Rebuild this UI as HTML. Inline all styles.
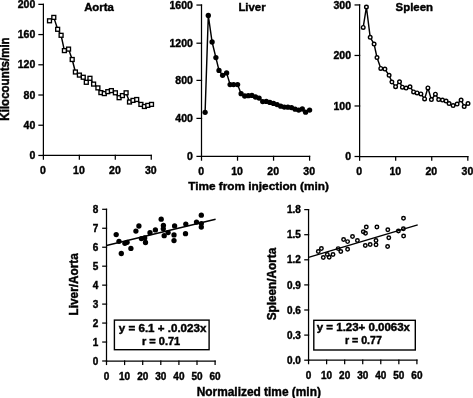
<!DOCTYPE html>
<html><head><meta charset="utf-8"><title>Figure</title>
<style>
html,body{margin:0;padding:0;background:#fff;}
body{width:473px;height:398px;overflow:hidden;}
svg{display:block;font-family:"Liberation Sans", sans-serif;will-change:transform;}
</style></head>
<body>
<svg width="473" height="398" viewBox="0 0 473 398">
<rect width="473" height="398" fill="#fff"/>
<g stroke="#000" fill="none" stroke-linecap="square">
<line x1="43.40" y1="4.35" x2="43.40" y2="155.45" stroke-width="1.25"/>
<line x1="43.40" y1="155.45" x2="151.25" y2="155.45" stroke-width="1.25"/>
<line x1="38.95" y1="155.45" x2="43.40" y2="155.45" stroke-width="1.25"/>
<line x1="38.95" y1="125.23" x2="43.40" y2="125.23" stroke-width="1.25"/>
<line x1="38.95" y1="95.01" x2="43.40" y2="95.01" stroke-width="1.25"/>
<line x1="38.95" y1="64.79" x2="43.40" y2="64.79" stroke-width="1.25"/>
<line x1="38.95" y1="34.57" x2="43.40" y2="34.57" stroke-width="1.25"/>
<line x1="38.95" y1="4.35" x2="43.40" y2="4.35" stroke-width="1.25"/>
<line x1="43.40" y1="155.45" x2="43.40" y2="159.15" stroke-width="1.25"/>
<line x1="79.35" y1="155.45" x2="79.35" y2="159.15" stroke-width="1.25"/>
<line x1="115.30" y1="155.45" x2="115.30" y2="159.15" stroke-width="1.25"/>
<line x1="151.25" y1="155.45" x2="151.25" y2="159.15" stroke-width="1.25"/>
</g>
<g fill="#000" font-weight="bold" stroke="#000" stroke-width="0.4">
<text x="35.30" y="159.15" font-size="10.5" text-anchor="end">0</text>
<text x="35.30" y="128.93" font-size="10.5" text-anchor="end">40</text>
<text x="35.30" y="98.71" font-size="10.5" text-anchor="end">80</text>
<text x="35.30" y="68.49" font-size="10.5" text-anchor="end">120</text>
<text x="35.30" y="38.27" font-size="10.5" text-anchor="end">160</text>
<text x="35.30" y="8.05" font-size="10.5" text-anchor="end">200</text>
<text x="43.00" y="173.60" font-size="10.5" text-anchor="middle">0</text>
<text x="78.95" y="173.60" font-size="10.5" text-anchor="middle">10</text>
<text x="114.90" y="173.60" font-size="10.5" text-anchor="middle">20</text>
<text x="150.85" y="173.60" font-size="10.5" text-anchor="middle">30</text>
</g>
<g stroke="#000" fill="none" stroke-linecap="square">
<line x1="201.50" y1="5.05" x2="201.50" y2="156.40" stroke-width="1.25"/>
<line x1="201.50" y1="156.40" x2="309.59" y2="156.40" stroke-width="1.25"/>
<line x1="197.05" y1="156.40" x2="201.50" y2="156.40" stroke-width="1.25"/>
<line x1="197.05" y1="118.40" x2="201.50" y2="118.40" stroke-width="1.25"/>
<line x1="197.05" y1="80.40" x2="201.50" y2="80.40" stroke-width="1.25"/>
<line x1="197.05" y1="43.20" x2="201.50" y2="43.20" stroke-width="1.25"/>
<line x1="197.05" y1="5.05" x2="201.50" y2="5.05" stroke-width="1.25"/>
<line x1="201.50" y1="156.40" x2="201.50" y2="160.10" stroke-width="1.25"/>
<line x1="237.53" y1="156.40" x2="237.53" y2="160.10" stroke-width="1.25"/>
<line x1="273.56" y1="156.40" x2="273.56" y2="160.10" stroke-width="1.25"/>
<line x1="309.59" y1="156.40" x2="309.59" y2="160.10" stroke-width="1.25"/>
</g>
<g fill="#000" font-weight="bold" stroke="#000" stroke-width="0.4">
<text x="192.90" y="160.10" font-size="10.5" text-anchor="end">0</text>
<text x="192.90" y="122.10" font-size="10.5" text-anchor="end">400</text>
<text x="192.90" y="84.10" font-size="10.5" text-anchor="end">800</text>
<text x="192.90" y="46.90" font-size="10.5" text-anchor="end">1200</text>
<text x="192.90" y="8.75" font-size="10.5" text-anchor="end">1600</text>
<text x="201.10" y="174.60" font-size="10.5" text-anchor="middle">0</text>
<text x="237.13" y="174.60" font-size="10.5" text-anchor="middle">10</text>
<text x="273.16" y="174.60" font-size="10.5" text-anchor="middle">20</text>
<text x="309.19" y="174.60" font-size="10.5" text-anchor="middle">30</text>
</g>
<g stroke="#000" fill="none" stroke-linecap="square">
<line x1="359.60" y1="4.95" x2="359.60" y2="156.50" stroke-width="1.25"/>
<line x1="359.60" y1="156.50" x2="467.81" y2="156.50" stroke-width="1.25"/>
<line x1="355.15" y1="156.50" x2="359.60" y2="156.50" stroke-width="1.25"/>
<line x1="355.15" y1="105.98" x2="359.60" y2="105.98" stroke-width="1.25"/>
<line x1="355.15" y1="55.47" x2="359.60" y2="55.47" stroke-width="1.25"/>
<line x1="355.15" y1="4.95" x2="359.60" y2="4.95" stroke-width="1.25"/>
<line x1="359.60" y1="156.50" x2="359.60" y2="160.20" stroke-width="1.25"/>
<line x1="395.67" y1="156.50" x2="395.67" y2="160.20" stroke-width="1.25"/>
<line x1="431.74" y1="156.50" x2="431.74" y2="160.20" stroke-width="1.25"/>
<line x1="467.81" y1="156.50" x2="467.81" y2="160.20" stroke-width="1.25"/>
</g>
<g fill="#000" font-weight="bold" stroke="#000" stroke-width="0.4">
<text x="351.00" y="160.20" font-size="10.5" text-anchor="end">0</text>
<text x="351.00" y="109.68" font-size="10.5" text-anchor="end">100</text>
<text x="351.00" y="59.17" font-size="10.5" text-anchor="end">200</text>
<text x="351.00" y="8.65" font-size="10.5" text-anchor="end">300</text>
<text x="359.20" y="174.60" font-size="10.5" text-anchor="middle">0</text>
<text x="395.27" y="174.60" font-size="10.5" text-anchor="middle">10</text>
<text x="431.34" y="174.60" font-size="10.5" text-anchor="middle">20</text>
<text x="467.41" y="174.60" font-size="10.5" text-anchor="middle">30</text>
</g>
<g fill="#000" font-weight="bold" stroke="#000" stroke-width="0.4">
<text x="99.00" y="11.40" font-size="11.4" text-anchor="middle">Aorta</text>
<text x="252.00" y="11.40" font-size="11.4" text-anchor="middle">Liver</text>
<text x="414.30" y="11.30" font-size="11.4" text-anchor="middle">Spleen</text>
<text x="258.60" y="190.20" font-size="11.8" text-anchor="middle">Time from injection (min)</text>
<text x="258.80" y="395.60" font-size="11.9" text-anchor="middle">Normalized time (min)</text>
<text transform="translate(8.9,79.0) rotate(-90) scale(1,1.1)" font-size="11.55" text-anchor="middle">Kilocounts/min</text>
<text transform="translate(78.35,284.3) rotate(-90) scale(1,1.08)" font-size="11.8" text-anchor="middle">Liver/Aorta</text>
<text transform="translate(275.8,284.0) rotate(-90) scale(1,1.08)" font-size="11.8" text-anchor="middle">Spleen/Aorta</text>
</g>
<polyline points="49.50,20.80 53.80,17.40 57.65,29.30 61.10,35.30 64.40,50.60 68.55,49.10 72.20,59.50 75.40,72.00 79.40,75.10 83.25,77.25 86.30,82.30 89.95,78.30 93.60,84.10 97.90,87.90 100.90,92.60 104.30,93.60 107.80,91.65 111.35,90.60 115.40,92.80 119.10,97.70 122.40,95.60 126.10,92.80 129.50,102.00 133.00,100.40 136.70,99.50 140.90,104.40 144.40,106.50 147.80,105.40 151.50,104.40" fill="none" stroke="#000" stroke-width="1.45"/>
<g fill="#fff" stroke="#000" stroke-width="1.35">
<rect x="47.55" y="18.85" width="3.9" height="3.9"/>
<rect x="51.85" y="15.45" width="3.9" height="3.9"/>
<rect x="55.70" y="27.35" width="3.9" height="3.9"/>
<rect x="59.15" y="33.35" width="3.9" height="3.9"/>
<rect x="62.45" y="48.65" width="3.9" height="3.9"/>
<rect x="66.60" y="47.15" width="3.9" height="3.9"/>
<rect x="70.25" y="57.55" width="3.9" height="3.9"/>
<rect x="73.45" y="70.05" width="3.9" height="3.9"/>
<rect x="77.45" y="73.15" width="3.9" height="3.9"/>
<rect x="81.30" y="75.30" width="3.9" height="3.9"/>
<rect x="84.35" y="80.35" width="3.9" height="3.9"/>
<rect x="88.00" y="76.35" width="3.9" height="3.9"/>
<rect x="91.65" y="82.15" width="3.9" height="3.9"/>
<rect x="95.95" y="85.95" width="3.9" height="3.9"/>
<rect x="98.95" y="90.65" width="3.9" height="3.9"/>
<rect x="102.35" y="91.65" width="3.9" height="3.9"/>
<rect x="105.85" y="89.70" width="3.9" height="3.9"/>
<rect x="109.40" y="88.65" width="3.9" height="3.9"/>
<rect x="113.45" y="90.85" width="3.9" height="3.9"/>
<rect x="117.15" y="95.75" width="3.9" height="3.9"/>
<rect x="120.45" y="93.65" width="3.9" height="3.9"/>
<rect x="124.15" y="90.85" width="3.9" height="3.9"/>
<rect x="127.55" y="100.05" width="3.9" height="3.9"/>
<rect x="131.05" y="98.45" width="3.9" height="3.9"/>
<rect x="134.75" y="97.55" width="3.9" height="3.9"/>
<rect x="138.95" y="102.45" width="3.9" height="3.9"/>
<rect x="142.45" y="104.55" width="3.9" height="3.9"/>
<rect x="145.85" y="103.45" width="3.9" height="3.9"/>
<rect x="149.55" y="102.45" width="3.9" height="3.9"/>
</g>
<polyline points="205.10,112.30 208.30,15.50 212.10,42.00 215.90,57.60 219.00,70.40 222.60,75.30 226.60,72.90 230.10,84.60 233.60,84.60 237.60,84.60 241.10,93.70 244.70,96.00 248.30,95.70 251.90,95.40 255.50,97.00 259.10,98.10 262.70,101.60 266.30,101.40 269.90,102.40 273.50,103.40 277.10,104.60 280.70,106.20 284.30,107.10 287.90,107.20 291.50,107.60 295.10,109.20 298.70,110.10 302.30,109.00 305.60,112.20 309.60,110.10" fill="none" stroke="#000" stroke-width="1.45"/>
<g fill="#000">
<circle cx="205.10" cy="112.30" r="2.65"/>
<circle cx="208.30" cy="15.50" r="2.65"/>
<circle cx="212.10" cy="42.00" r="2.65"/>
<circle cx="215.90" cy="57.60" r="2.65"/>
<circle cx="219.00" cy="70.40" r="2.65"/>
<circle cx="222.60" cy="75.30" r="2.65"/>
<circle cx="226.60" cy="72.90" r="2.65"/>
<circle cx="230.10" cy="84.60" r="2.65"/>
<circle cx="233.60" cy="84.60" r="2.65"/>
<circle cx="237.60" cy="84.60" r="2.65"/>
<circle cx="241.10" cy="93.70" r="2.65"/>
<circle cx="244.70" cy="96.00" r="2.65"/>
<circle cx="248.30" cy="95.70" r="2.65"/>
<circle cx="251.90" cy="95.40" r="2.65"/>
<circle cx="255.50" cy="97.00" r="2.65"/>
<circle cx="259.10" cy="98.10" r="2.65"/>
<circle cx="262.70" cy="101.60" r="2.65"/>
<circle cx="266.30" cy="101.40" r="2.65"/>
<circle cx="269.90" cy="102.40" r="2.65"/>
<circle cx="273.50" cy="103.40" r="2.65"/>
<circle cx="277.10" cy="104.60" r="2.65"/>
<circle cx="280.70" cy="106.20" r="2.65"/>
<circle cx="284.30" cy="107.10" r="2.65"/>
<circle cx="287.90" cy="107.20" r="2.65"/>
<circle cx="291.50" cy="107.60" r="2.65"/>
<circle cx="295.10" cy="109.20" r="2.65"/>
<circle cx="298.70" cy="110.10" r="2.65"/>
<circle cx="302.30" cy="109.00" r="2.65"/>
<circle cx="305.60" cy="112.20" r="2.65"/>
<circle cx="309.60" cy="110.10" r="2.65"/>
</g>
<polyline points="363.20,27.40 366.40,7.00 370.20,37.30 374.10,44.10 377.00,57.60 380.80,68.40 384.90,69.10 389.10,75.30 391.90,82.00 395.60,86.70 399.50,81.80 402.40,87.20 406.10,88.10 410.00,86.80 413.60,91.90 417.10,92.90 420.90,93.90 424.60,98.90 427.90,87.90 431.40,99.60 435.40,94.20 438.70,99.60 442.50,100.10 446.10,101.10 449.10,103.60 453.10,105.60 457.10,104.10 461.10,100.10 464.20,106.60 468.00,103.60" fill="none" stroke="#000" stroke-width="1.45"/>
<g fill="#fff" stroke="#000" stroke-width="1.4">
<circle cx="363.20" cy="27.40" r="1.8"/>
<circle cx="366.40" cy="7.00" r="1.8"/>
<circle cx="370.20" cy="37.30" r="1.8"/>
<circle cx="374.10" cy="44.10" r="1.8"/>
<circle cx="377.00" cy="57.60" r="1.8"/>
<circle cx="380.80" cy="68.40" r="1.8"/>
<circle cx="384.90" cy="69.10" r="1.8"/>
<circle cx="389.10" cy="75.30" r="1.8"/>
<circle cx="391.90" cy="82.00" r="1.8"/>
<circle cx="395.60" cy="86.70" r="1.8"/>
<circle cx="399.50" cy="81.80" r="1.8"/>
<circle cx="402.40" cy="87.20" r="1.8"/>
<circle cx="406.10" cy="88.10" r="1.8"/>
<circle cx="410.00" cy="86.80" r="1.8"/>
<circle cx="413.60" cy="91.90" r="1.8"/>
<circle cx="417.10" cy="92.90" r="1.8"/>
<circle cx="420.90" cy="93.90" r="1.8"/>
<circle cx="424.60" cy="98.90" r="1.8"/>
<circle cx="427.90" cy="87.90" r="1.8"/>
<circle cx="431.40" cy="99.60" r="1.8"/>
<circle cx="435.40" cy="94.20" r="1.8"/>
<circle cx="438.70" cy="99.60" r="1.8"/>
<circle cx="442.50" cy="100.10" r="1.8"/>
<circle cx="446.10" cy="101.10" r="1.8"/>
<circle cx="449.10" cy="103.60" r="1.8"/>
<circle cx="453.10" cy="105.60" r="1.8"/>
<circle cx="457.10" cy="104.10" r="1.8"/>
<circle cx="461.10" cy="100.10" r="1.8"/>
<circle cx="464.20" cy="106.60" r="1.8"/>
<circle cx="468.00" cy="103.60" r="1.8"/>
</g>
<g stroke="#000" fill="none" stroke-linecap="square">
<line x1="106.50" y1="209.30" x2="106.50" y2="361.00" stroke-width="1.25"/>
<line x1="106.50" y1="361.00" x2="215.10" y2="361.00" stroke-width="1.25"/>
<line x1="102.80" y1="361.00" x2="106.50" y2="361.00" stroke-width="1.25"/>
<line x1="102.80" y1="342.04" x2="106.50" y2="342.04" stroke-width="1.25"/>
<line x1="102.80" y1="323.07" x2="106.50" y2="323.07" stroke-width="1.25"/>
<line x1="102.80" y1="304.11" x2="106.50" y2="304.11" stroke-width="1.25"/>
<line x1="102.80" y1="285.15" x2="106.50" y2="285.15" stroke-width="1.25"/>
<line x1="102.80" y1="266.19" x2="106.50" y2="266.19" stroke-width="1.25"/>
<line x1="102.80" y1="247.23" x2="106.50" y2="247.23" stroke-width="1.25"/>
<line x1="102.80" y1="228.26" x2="106.50" y2="228.26" stroke-width="1.25"/>
<line x1="102.80" y1="209.30" x2="106.50" y2="209.30" stroke-width="1.25"/>
<line x1="106.50" y1="361.00" x2="106.50" y2="364.45" stroke-width="1.25"/>
<line x1="124.60" y1="361.00" x2="124.60" y2="364.45" stroke-width="1.25"/>
<line x1="142.70" y1="361.00" x2="142.70" y2="364.45" stroke-width="1.25"/>
<line x1="160.80" y1="361.00" x2="160.80" y2="364.45" stroke-width="1.25"/>
<line x1="178.90" y1="361.00" x2="178.90" y2="364.45" stroke-width="1.25"/>
<line x1="197.00" y1="361.00" x2="197.00" y2="364.45" stroke-width="1.25"/>
<line x1="215.10" y1="361.00" x2="215.10" y2="364.45" stroke-width="1.25"/>
</g>
<g fill="#000" font-weight="bold" stroke="#000" stroke-width="0.4">
<text x="98.40" y="364.60" font-size="10" text-anchor="end">0</text>
<text x="98.40" y="345.64" font-size="10" text-anchor="end">1</text>
<text x="98.40" y="326.68" font-size="10" text-anchor="end">2</text>
<text x="98.40" y="307.71" font-size="10" text-anchor="end">3</text>
<text x="98.40" y="288.75" font-size="10" text-anchor="end">4</text>
<text x="98.40" y="269.79" font-size="10" text-anchor="end">5</text>
<text x="98.40" y="250.83" font-size="10" text-anchor="end">6</text>
<text x="98.40" y="231.86" font-size="10" text-anchor="end">7</text>
<text x="98.40" y="212.90" font-size="10" text-anchor="end">8</text>
<text x="106.50" y="379.60" font-size="10" text-anchor="middle">0</text>
<text x="124.60" y="379.60" font-size="10" text-anchor="middle">10</text>
<text x="142.70" y="379.60" font-size="10" text-anchor="middle">20</text>
<text x="160.80" y="379.60" font-size="10" text-anchor="middle">30</text>
<text x="178.90" y="379.60" font-size="10" text-anchor="middle">40</text>
<text x="197.00" y="379.60" font-size="10" text-anchor="middle">50</text>
<text x="215.10" y="379.60" font-size="10" text-anchor="middle">60</text>
</g>
<g stroke="#000" fill="none" stroke-linecap="square">
<line x1="308.55" y1="209.60" x2="308.55" y2="360.20" stroke-width="1.25"/>
<line x1="308.55" y1="360.20" x2="416.90" y2="360.20" stroke-width="1.25"/>
<line x1="304.85" y1="360.20" x2="308.55" y2="360.20" stroke-width="1.25"/>
<line x1="304.85" y1="335.10" x2="308.55" y2="335.10" stroke-width="1.25"/>
<line x1="304.85" y1="310.00" x2="308.55" y2="310.00" stroke-width="1.25"/>
<line x1="304.85" y1="284.90" x2="308.55" y2="284.90" stroke-width="1.25"/>
<line x1="304.85" y1="259.80" x2="308.55" y2="259.80" stroke-width="1.25"/>
<line x1="304.85" y1="234.70" x2="308.55" y2="234.70" stroke-width="1.25"/>
<line x1="304.85" y1="209.60" x2="308.55" y2="209.60" stroke-width="1.25"/>
<line x1="308.55" y1="360.20" x2="308.55" y2="363.65" stroke-width="1.25"/>
<line x1="326.61" y1="360.20" x2="326.61" y2="363.65" stroke-width="1.25"/>
<line x1="344.67" y1="360.20" x2="344.67" y2="363.65" stroke-width="1.25"/>
<line x1="362.73" y1="360.20" x2="362.73" y2="363.65" stroke-width="1.25"/>
<line x1="380.78" y1="360.20" x2="380.78" y2="363.65" stroke-width="1.25"/>
<line x1="398.84" y1="360.20" x2="398.84" y2="363.65" stroke-width="1.25"/>
<line x1="416.90" y1="360.20" x2="416.90" y2="363.65" stroke-width="1.25"/>
</g>
<g fill="#000" font-weight="bold" stroke="#000" stroke-width="0.4">
<text x="300.90" y="363.80" font-size="10" text-anchor="end">0.0</text>
<text x="300.90" y="338.70" font-size="10" text-anchor="end">0.3</text>
<text x="300.90" y="313.60" font-size="10" text-anchor="end">0.6</text>
<text x="300.90" y="288.50" font-size="10" text-anchor="end">0.9</text>
<text x="300.90" y="263.40" font-size="10" text-anchor="end">1.2</text>
<text x="300.90" y="238.30" font-size="10" text-anchor="end">1.5</text>
<text x="300.90" y="213.20" font-size="10" text-anchor="end">1.8</text>
<text x="308.55" y="378.80" font-size="10" text-anchor="middle">0</text>
<text x="326.61" y="378.80" font-size="10" text-anchor="middle">10</text>
<text x="344.67" y="378.80" font-size="10" text-anchor="middle">20</text>
<text x="362.73" y="378.80" font-size="10" text-anchor="middle">30</text>
<text x="380.78" y="378.80" font-size="10" text-anchor="middle">40</text>
<text x="398.84" y="378.80" font-size="10" text-anchor="middle">50</text>
<text x="416.90" y="378.80" font-size="10" text-anchor="middle">60</text>
</g>
<g stroke="#000" stroke-width="1.35">
<line x1="106.50" y1="245.40" x2="215.60" y2="219.30" stroke-width="1.5"/>
<line x1="308.55" y1="257.40" x2="417.70" y2="224.90" stroke-width="1.5"/>
</g>
<g fill="#000">
<circle cx="116.20" cy="234.60" r="2.65"/>
<circle cx="119.00" cy="241.30" r="2.65"/>
<circle cx="121.30" cy="253.50" r="2.65"/>
<circle cx="124.90" cy="243.30" r="2.65"/>
<circle cx="127.10" cy="242.30" r="2.65"/>
<circle cx="130.90" cy="248.40" r="2.65"/>
<circle cx="135.90" cy="231.10" r="2.65"/>
<circle cx="138.90" cy="226.00" r="2.65"/>
<circle cx="141.40" cy="238.60" r="2.65"/>
<circle cx="144.70" cy="238.00" r="2.65"/>
<circle cx="145.50" cy="242.50" r="2.65"/>
<circle cx="150.00" cy="232.70" r="2.65"/>
<circle cx="155.40" cy="229.90" r="2.65"/>
<circle cx="161.20" cy="219.20" r="2.65"/>
<circle cx="163.40" cy="225.40" r="2.65"/>
<circle cx="163.30" cy="228.80" r="2.65"/>
<circle cx="164.20" cy="235.70" r="2.65"/>
<circle cx="168.10" cy="232.60" r="2.65"/>
<circle cx="174.60" cy="225.90" r="2.65"/>
<circle cx="174.00" cy="234.90" r="2.65"/>
<circle cx="174.00" cy="240.60" r="2.65"/>
<circle cx="185.80" cy="224.10" r="2.65"/>
<circle cx="185.50" cy="233.70" r="2.65"/>
<circle cx="196.50" cy="222.10" r="2.65"/>
<circle cx="201.30" cy="215.20" r="2.65"/>
<circle cx="201.30" cy="223.60" r="2.65"/>
<circle cx="201.30" cy="227.10" r="2.65"/>
</g>
<g fill="none" stroke="#000" stroke-width="1.45">
<circle cx="318.30" cy="251.40" r="1.75"/>
<circle cx="321.40" cy="248.40" r="1.75"/>
<circle cx="323.30" cy="257.50" r="1.75"/>
<circle cx="327.30" cy="254.50" r="1.75"/>
<circle cx="329.20" cy="257.20" r="1.75"/>
<circle cx="333.00" cy="254.40" r="1.75"/>
<circle cx="338.20" cy="248.60" r="1.75"/>
<circle cx="340.80" cy="251.50" r="1.75"/>
<circle cx="343.60" cy="239.50" r="1.75"/>
<circle cx="347.60" cy="241.60" r="1.75"/>
<circle cx="347.60" cy="249.30" r="1.75"/>
<circle cx="352.50" cy="236.40" r="1.75"/>
<circle cx="357.40" cy="240.50" r="1.75"/>
<circle cx="363.30" cy="231.80" r="1.75"/>
<circle cx="365.50" cy="233.20" r="1.75"/>
<circle cx="366.30" cy="226.90" r="1.75"/>
<circle cx="365.30" cy="245.50" r="1.75"/>
<circle cx="370.20" cy="244.50" r="1.75"/>
<circle cx="376.90" cy="226.90" r="1.75"/>
<circle cx="376.00" cy="240.50" r="1.75"/>
<circle cx="376.00" cy="244.70" r="1.75"/>
<circle cx="387.80" cy="229.80" r="1.75"/>
<circle cx="388.80" cy="237.70" r="1.75"/>
<circle cx="387.60" cy="246.40" r="1.75"/>
<circle cx="398.40" cy="231.00" r="1.75"/>
<circle cx="403.50" cy="218.20" r="1.75"/>
<circle cx="403.40" cy="228.80" r="1.75"/>
<circle cx="403.60" cy="235.90" r="1.75"/>
</g>
<g fill="#fff" stroke="#000" stroke-width="1.4">
<rect x="114.4" y="320.1" width="94.7" height="29.6"/>
<rect x="313.8" y="320.3" width="101.5" height="29.7"/>
</g>
<g fill="#000" font-weight="bold" stroke="#000" stroke-width="0.4">
<text x="118.80" y="331.80" font-size="10.2" text-anchor="start" textLength="87.6" lengthAdjust="spacingAndGlyphs">y = 6.1 + .0.023x</text>
<text x="161.10" y="344.60" font-size="10.2" text-anchor="middle" textLength="38.3" lengthAdjust="spacingAndGlyphs">r = 0.71</text>
<text x="316.80" y="331.40" font-size="10.2" text-anchor="start" textLength="93.2" lengthAdjust="spacingAndGlyphs">y = 1.23+ 0.0063x</text>
<text x="363.40" y="344.40" font-size="10.2" text-anchor="middle" textLength="37.0" lengthAdjust="spacingAndGlyphs">r = 0.77</text>
</g>
</svg>
</body></html>
